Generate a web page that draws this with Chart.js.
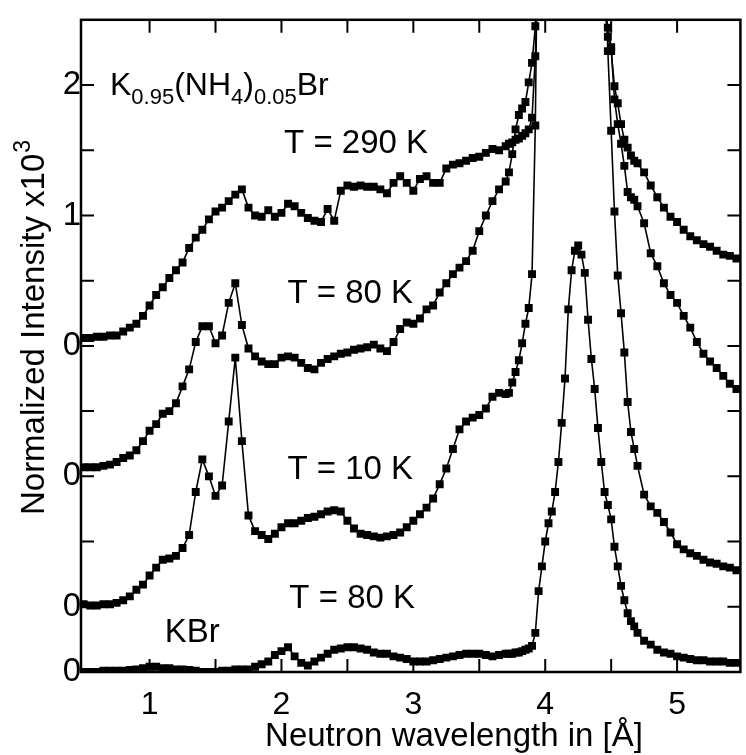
<!DOCTYPE html>
<html>
<head>
<meta charset="utf-8">
<script src="https://cdn.jsdelivr.net/npm/chart.js@4.4.1/dist/chart.umd.min.js"></script>
<style>
  html, body { margin: 0; padding: 0; background: #fff; }
  #wrap { width: 746px; height: 755px; }
</style>
</head>
<body>
<div id="wrap"><canvas id="chart"></canvas></div>
<script>
// Wavelength grid in Angstrom (finer around the Bragg peak)
const wavelengths = [
  0.50, 0.55, 0.60, 0.65, 0.70, 0.75, 0.80, 0.85, 0.90, 0.95,
  1.00, 1.05, 1.10, 1.15, 1.20, 1.25, 1.30, 1.35, 1.40, 1.45,
  1.50, 1.55, 1.60, 1.65, 1.70, 1.75, 1.80, 1.85, 1.90, 1.95,
  2.00, 2.05, 2.10, 2.15, 2.20, 2.25, 2.30, 2.35, 2.40, 2.45,
  2.50, 2.55, 2.60, 2.65, 2.70, 2.75, 2.80, 2.85, 2.90, 2.95,
  3.00, 3.05, 3.10, 3.15, 3.20, 3.25, 3.30, 3.35, 3.40, 3.45,
  3.50, 3.55, 3.60, 3.65, 3.70,
  3.725, 3.75, 3.775, 3.80, 3.825, 3.85, 3.875, 3.90, 3.925, 3.95,
  3.975, 4.00, 4.025, 4.05, 4.075, 4.10, 4.125, 4.15, 4.175, 4.20,
  4.225, 4.25, 4.275, 4.30, 4.325, 4.35, 4.375, 4.40, 4.425, 4.45,
  4.475, 4.50, 4.525, 4.55, 4.575, 4.60, 4.625, 4.65, 4.675, 4.70,
  4.75, 4.80,
  4.85, 4.90, 4.95, 5.00, 5.05, 5.10, 5.15, 5.20, 5.25, 5.30, 5.35, 5.40, 5.45
];

// Normalized intensity (x10^3), each scan relative to its own zero
const kbr80K = [
  0.00, 0.00, 0.00, 0.01, 0.01, 0.01, 0.01, 0.015, 0.02, 0.03,
  0.04, 0.04, 0.03, 0.03, 0.02, 0.02, 0.015, 0.01, 0.00, 0.00,
  0.00, 0.01, 0.01, 0.02, 0.02, 0.02, 0.04, 0.06, 0.08, 0.13,
  0.16, 0.19, 0.12, 0.07, 0.05, 0.08, 0.11, 0.14, 0.17, 0.18,
  0.19, 0.19, 0.18, 0.17, 0.15, 0.14, 0.14, 0.12, 0.11, 0.10,
  0.08, 0.08, 0.08, 0.09, 0.10, 0.11, 0.12, 0.13, 0.14, 0.14,
  0.14, 0.13, 0.12, 0.13, 0.14,
  0.14, 0.14, 0.15, 0.15, 0.16, 0.17, 0.18, 0.20, 0.30, 0.62,
  0.81, 1.00, 1.14, 1.23, 1.38, 1.61, 1.91, 2.25, 2.78, 3.08,
  3.23, 3.27, 3.20, 3.06, 2.70, 2.40, 2.17, 1.87, 1.61, 1.38,
  1.28, 1.17, 0.96, 0.81, 0.66, 0.55, 0.45, 0.39, 0.35, 0.30,
  0.24, 0.21,
  0.17, 0.15, 0.14, 0.12, 0.11, 0.10, 0.09, 0.09, 0.08, 0.08, 0.08, 0.07, 0.07
];

const mix10K = [
  0.02, 0.01, 0.01, 0.02, 0.02, 0.03, 0.05, 0.08, 0.13, 0.17,
  0.24, 0.30, 0.36, 0.37, 0.39, 0.45, 0.55, 0.88, 1.13, 1.00,
  0.85, 0.93, 1.42, 1.91, 1.27, 0.70, 0.58, 0.55, 0.52, 0.56,
  0.61, 0.64, 0.64, 0.66, 0.68, 0.69, 0.71, 0.73, 0.74, 0.73,
  0.66, 0.60, 0.56, 0.55, 0.54, 0.53, 0.54, 0.55, 0.57, 0.61,
  0.66, 0.71, 0.76, 0.83, 0.94, 1.06, 1.21, 1.36, 1.42, 1.45,
  1.47, 1.52, 1.61, 1.64, 1.63,
  1.64, 1.72, 1.80, 1.89, 2.02, 2.17, 2.29, 2.55, 3.69, 6.0,
  7.0, 7.8, 8.4, 8.8, 9.0, 9.2, 9.3, 9.3, 9.2, 9.0,
  8.8, 8.5, 8.2, 7.8, 7.4, 7.0, 6.6, 6.1, 5.6, 5.0,
  4.26, 3.65, 3.03, 2.54, 2.25, 1.95, 1.57, 1.34, 1.21, 1.08,
  0.86, 0.77,
  0.72, 0.65, 0.57, 0.48, 0.44, 0.41, 0.39, 0.36, 0.34, 0.33, 0.31, 0.30, 0.28
];

const mix80K = [
  0.07, 0.07, 0.07, 0.08, 0.09, 0.11, 0.14, 0.16, 0.20, 0.27,
  0.35, 0.40, 0.48, 0.50, 0.56, 0.69, 0.82, 1.03, 1.15, 1.15,
  1.02, 1.08, 1.33, 1.48, 1.16, 0.98, 0.92, 0.88, 0.86, 0.86,
  0.91, 0.92, 0.91, 0.87, 0.83, 0.82, 0.87, 0.90, 0.92, 0.94,
  0.95, 0.97, 0.98, 0.99, 1.01, 0.98, 0.96, 1.03, 1.13, 1.18,
  1.17, 1.21, 1.28, 1.31, 1.41, 1.48, 1.55, 1.60, 1.65, 1.73,
  1.88, 2.00, 2.11, 2.20, 2.26,
  2.33, 2.47, 2.66, 2.77, 2.82, 2.87, 3.02, 3.17, 3.45, 4.0,
  4.5, 4.9, 5.2, 5.4, 5.5, 5.6, 5.6, 5.6, 5.5, 5.4,
  5.3, 5.2, 5.0, 4.8, 4.6, 4.4, 4.2, 4.0, 3.8, 3.6,
  3.44, 3.29, 2.89, 2.70, 2.55, 2.38, 2.18, 2.14, 2.12, 2.07,
  1.94, 1.71,
  1.61, 1.48, 1.39, 1.33, 1.23, 1.14, 1.03, 0.94, 0.88, 0.83, 0.77, 0.71, 0.67
];

const mix290K = [
  0.06, 0.06, 0.07, 0.07, 0.08, 0.08, 0.11, 0.14, 0.17, 0.23,
  0.31, 0.39, 0.45, 0.52, 0.58, 0.64, 0.75, 0.83, 0.89, 0.97,
  1.03, 1.06, 1.11, 1.16, 1.20, 1.06, 1.00, 0.99, 1.04, 0.99,
  1.02, 1.09, 1.07, 1.02, 0.98, 0.96, 0.95, 1.05, 0.96, 1.19,
  1.23, 1.22, 1.23, 1.22, 1.22, 1.20, 1.17, 1.25, 1.30, 1.25,
  1.19, 1.28, 1.30, 1.25, 1.25, 1.36, 1.39, 1.40, 1.42, 1.44,
  1.45, 1.48, 1.51, 1.50, 1.53,
  1.55, 1.56, 1.58, 1.59, 1.61, 1.63, 1.66, 1.75, 2.22, 3.0,
  3.6, 4.0, 4.3, 4.6, 4.8, 4.9, 5.0, 5.0, 5.0, 4.9,
  4.8, 4.7, 4.6, 4.5, 4.4, 4.3, 4.1, 3.8, 3.2, 2.6,
  2.37, 2.26, 1.99, 1.86, 1.70, 1.58, 1.52, 1.46, 1.42, 1.40,
  1.33, 1.23,
  1.14, 1.06, 0.99, 0.95, 0.89, 0.84, 0.81, 0.78, 0.76, 0.73, 0.70, 0.69, 0.67
];

const seriesNames = ["KBr, T = 80 K", "T = 10 K", "T = 80 K", "T = 290 K"];
const seriesValues = [kbr80K, mix10K, mix80K, mix290K];
const seriesOffsets = [0, 0.5, 1.5, 2.5]; // vertical shift of each scan

const xTickValues = [1, 1.5, 2, 2.5, 3, 3.5, 4, 4.5, 5];
const xTickLabels = ["1", "", "2", "", "3", "", "4", "", "5"];
const yTickValues = [0, 0.5, 1, 1.5, 2, 2.5, 3, 3.5, 4, 4.5];
const yTickLabels = ["0", "0", "", "0", "", "0", "", "1", "", "2"];

// Curve labels: left edge / baseline in data units
const curveLabels = [
  { text: "T = 290 K", x: 2.02, y: 3.98 },
  { text: "T = 80 K", x: 2.045, y: 2.83 },
  { text: "T = 10 K", x: 2.045, y: 1.48 },
  { text: "T = 80 K", x: 2.06, y: 0.49 },
  { text: "KBr", x: 1.115, y: 0.23 },
];
// K0.95(NH4)0.05Br, [text, subscript?]
const formulaParts = [["K", false], ["0.95", true], ["(NH", false], ["4", true], [")", false], ["0.05", true], ["Br", false]];
const formulaPos = { x: 0.70, y: 4.42 };

const FONT = "'Liberation Sans', Arial, Helvetica, sans-serif";
const TICK = 13;

const datasets = seriesValues.map((vals, k) => ({
  label: seriesNames[k],
  data: wavelengths.map((w, i) => ({ x: w, y: vals[i] + seriesOffsets[k] })),
  borderColor: "#000",
  borderWidth: 1.6,
  backgroundColor: "#000",
  pointStyle: "rect",
  pointRadius: 5.6,
  pointBorderWidth: 0,
  pointBackgroundColor: "#000",
  tension: 0,
  fill: false,
}));

// Frame, inward ticks and all the text inside / around the plot
const frameAndText = {
  id: "frameAndText",
  afterDraw(chart) {
    const { ctx, chartArea: a, scales } = chart;
    const sx = scales.x, sy = scales.y;
    ctx.save();
    ctx.strokeStyle = "#000";
    ctx.lineWidth = 2.5;
    ctx.strokeRect(a.left, a.top, a.right - a.left, a.bottom - a.top);

    ctx.lineWidth = 2;
    ctx.beginPath();
    xTickValues.forEach((v) => {
      const px = sx.getPixelForValue(v);
      ctx.moveTo(px, a.bottom); ctx.lineTo(px, a.bottom - TICK);
      ctx.moveTo(px, a.top); ctx.lineTo(px, a.top + TICK);
    });
    yTickValues.forEach((v) => {
      const py = sy.getPixelForValue(v);
      ctx.moveTo(a.left, py); ctx.lineTo(a.left + TICK, py);
      ctx.moveTo(a.right, py); ctx.lineTo(a.right - TICK, py);
    });
    ctx.stroke();

    ctx.fillStyle = "#000";
    ctx.textBaseline = "alphabetic";
    ctx.textAlign = "left";
    ctx.font = `33px ${FONT}`;
    curveLabels.forEach((l) => {
      ctx.fillText(l.text, sx.getPixelForValue(l.x), sy.getPixelForValue(l.y));
    });

    let fx = sx.getPixelForValue(formulaPos.x);
    const fy = sy.getPixelForValue(formulaPos.y);
    formulaParts.forEach(([t, sub]) => {
      ctx.font = sub ? `22px ${FONT}` : `32px ${FONT}`;
      ctx.fillText(t, fx, sub ? fy + 9 : fy);
      fx += ctx.measureText(t).width;
    });

    // x axis title
    ctx.font = `33px ${FONT}`;
    ctx.textAlign = "center";
    ctx.fillText("Neutron wavelength in [\u00C5]", a.left + 373, 746);

    // y axis title with superscript
    const main = "Normalized Intensity x10";
    ctx.translate(44, 328);
    ctx.rotate(-Math.PI / 2);
    ctx.textAlign = "left";
    ctx.font = `33px ${FONT}`;
    const w1 = ctx.measureText(main).width;
    ctx.font = `23px ${FONT}`;
    const w2 = ctx.measureText("3").width;
    const start = -(w1 + w2) / 2;
    ctx.font = `33px ${FONT}`;
    ctx.fillText(main, start, 0);
    ctx.font = `23px ${FONT}`;
    ctx.fillText("3", start + w1 + 1, -14);
    ctx.restore();
  },
};

new Chart(document.getElementById("chart"), {
  type: "line",
  data: { datasets },
  options: {
    responsive: true,
    maintainAspectRatio: false,
    animation: false,
    layout: { padding: { top: 12, right: 4, left: 0, bottom: 0 } },
    plugins: { legend: { display: false }, tooltip: { enabled: false } },
    scales: {
      x: {
        type: "linear",
        min: 0.48,
        max: 5.48,
        afterBuildTicks: (s) => { s.ticks = xTickValues.map((v) => ({ value: v })); },
        afterFit: (s) => { s.height = 83; },
        grid: { display: false, drawTicks: false },
        border: { display: false },
        ticks: {
          color: "#000",
          font: { family: FONT, size: 32 },
          padding: 14,
          maxRotation: 0,
          autoSkip: false,
          callback: (v) => xTickLabels[xTickValues.indexOf(v)] || "",
        },
      },
      y: {
        type: "linear",
        min: 0,
        max: 5,
        afterBuildTicks: (s) => { s.ticks = yTickValues.map((v) => ({ value: v })); },
        afterFit: (s) => { s.width = 81; },
        grid: { display: false, drawTicks: false },
        border: { display: false },
        ticks: {
          color: "#000",
          font: { family: FONT, size: 33 },
          padding: 0,
          autoSkip: false,
          callback: (v) => yTickLabels[yTickValues.indexOf(v)] || "",
        },
      },
    },
  },
  plugins: [frameAndText],
});
</script>
</body>
</html>
